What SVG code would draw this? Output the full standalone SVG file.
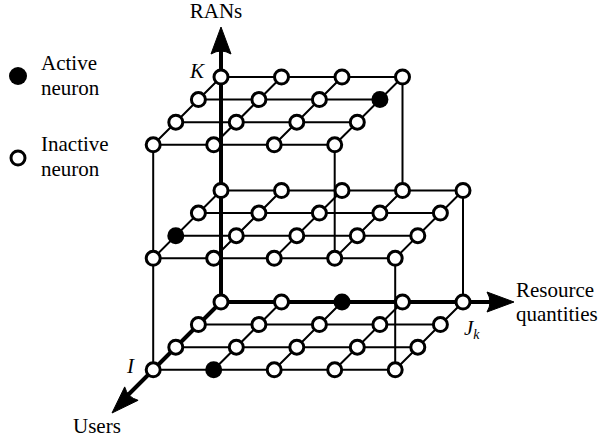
<svg xmlns="http://www.w3.org/2000/svg" width="608" height="440" viewBox="0 0 608 440">
<rect width="608" height="440" fill="#fff"/>
<g id="connectors" fill="none" stroke="#000">
<g stroke-width="2">
<path d="M198.4 324.6H440.4M175.8 347.2H417.8M153.2 369.8H395.2M281.5 302L213.7 369.8M342 302L274.2 369.8M402.5 302L334.7 369.8M463 302L395.2 369.8"/>
<path d="M221 190.5H463M198.4 213.1H440.4M175.8 235.7H417.8M153.2 258.3H395.2M221 190.5L153.2 258.3M281.5 190.5L213.7 258.3M342 190.5L274.2 258.3M402.5 190.5L334.7 258.3M463 190.5L395.2 258.3"/>
<path d="M221 77H402.5M198.4 99.6H379.9M175.8 122.2H357.3M153.2 144.8H334.7M221 77L153.2 144.8M281.5 77L213.7 144.8M342 77L274.2 144.8M402.5 77L334.7 144.8"/>
<path d="M153.2 144.8V369.8M334.7 144.8V258.3M402.5 77V190.5M395.2 258.3V369.8M463 190.5V302"/>
</g>
<path stroke-width="4" d="M221 302V45M221 302H500M221 302L125 398"/>
<g fill="#000" stroke-width="1">
<path d="M221 27L211 54Q221 48 231 54Z"/>
<path d="M514 302L487 292Q493 302 487 312Z"/>
<path d="M112 413L138.1 400.3Q127.6 397.4 124.7 386.9Z"/>
</g>
</g>
<g id="nodes" fill="#fff" stroke="#000" stroke-width="3">
<g id="bottom">
<g id="b00"><circle cx="221" cy="302" r="7"/></g>
<g id="b01"><circle cx="281.5" cy="302" r="7"/></g>
<g id="b02"><circle cx="342" cy="302" r="8.5" fill="#000" stroke="none"/></g>
<g id="b03"><circle cx="402.5" cy="302" r="7"/></g>
<g id="b04"><circle cx="463" cy="302" r="7"/></g>
<g id="b10"><circle cx="198.4" cy="324.6" r="7"/></g>
<g id="b11"><circle cx="258.9" cy="324.6" r="7"/></g>
<g id="b12"><circle cx="319.4" cy="324.6" r="7"/></g>
<g id="b13"><circle cx="379.9" cy="324.6" r="7"/></g>
<g id="b14"><circle cx="440.4" cy="324.6" r="7"/></g>
<g id="b20"><circle cx="175.8" cy="347.2" r="7"/></g>
<g id="b21"><circle cx="236.3" cy="347.2" r="7"/></g>
<g id="b22"><circle cx="296.8" cy="347.2" r="7"/></g>
<g id="b23"><circle cx="357.3" cy="347.2" r="7"/></g>
<g id="b24"><circle cx="417.8" cy="347.2" r="7"/></g>
<g id="b30"><circle cx="153.2" cy="369.8" r="7"/></g>
<g id="b31"><circle cx="213.7" cy="369.8" r="8.5" fill="#000" stroke="none"/></g>
<g id="b32"><circle cx="274.2" cy="369.8" r="7"/></g>
<g id="b33"><circle cx="334.7" cy="369.8" r="7"/></g>
<g id="b34"><circle cx="395.2" cy="369.8" r="7"/></g>
</g>
<g id="middle">
<g id="m00"><circle cx="221" cy="190.5" r="7"/></g>
<g id="m01"><circle cx="281.5" cy="190.5" r="7"/></g>
<g id="m02"><circle cx="342" cy="190.5" r="7"/></g>
<g id="m03"><circle cx="402.5" cy="190.5" r="7"/></g>
<g id="m04"><circle cx="463" cy="190.5" r="7"/></g>
<g id="m10"><circle cx="198.4" cy="213.1" r="7"/></g>
<g id="m11"><circle cx="258.9" cy="213.1" r="7"/></g>
<g id="m12"><circle cx="319.4" cy="213.1" r="7"/></g>
<g id="m13"><circle cx="379.9" cy="213.1" r="7"/></g>
<g id="m14"><circle cx="440.4" cy="213.1" r="7"/></g>
<g id="m20"><circle cx="175.8" cy="235.7" r="8.5" fill="#000" stroke="none"/></g>
<g id="m21"><circle cx="236.3" cy="235.7" r="7"/></g>
<g id="m22"><circle cx="296.8" cy="235.7" r="7"/></g>
<g id="m23"><circle cx="357.3" cy="235.7" r="7"/></g>
<g id="m24"><circle cx="417.8" cy="235.7" r="7"/></g>
<g id="m30"><circle cx="153.2" cy="258.3" r="7"/></g>
<g id="m31"><circle cx="213.7" cy="258.3" r="7"/></g>
<g id="m32"><circle cx="274.2" cy="258.3" r="7"/></g>
<g id="m33"><circle cx="334.7" cy="258.3" r="7"/></g>
<g id="m34"><circle cx="395.2" cy="258.3" r="7"/></g>
</g>
<g id="top">
<g id="t00"><circle cx="221" cy="77" r="7"/></g>
<g id="t01"><circle cx="281.5" cy="77" r="7"/></g>
<g id="t02"><circle cx="342" cy="77" r="7"/></g>
<g id="t03"><circle cx="402.5" cy="77" r="7"/></g>
<g id="t10"><circle cx="198.4" cy="99.6" r="7"/></g>
<g id="t11"><circle cx="258.9" cy="99.6" r="7"/></g>
<g id="t12"><circle cx="319.4" cy="99.6" r="7"/></g>
<g id="t13"><circle cx="379.9" cy="99.6" r="8.5" fill="#000" stroke="none"/></g>
<g id="t20"><circle cx="175.8" cy="122.2" r="7"/></g>
<g id="t21"><circle cx="236.3" cy="122.2" r="7"/></g>
<g id="t22"><circle cx="296.8" cy="122.2" r="7"/></g>
<g id="t23"><circle cx="357.3" cy="122.2" r="7"/></g>
<g id="t30"><circle cx="153.2" cy="144.8" r="7"/></g>
<g id="t31"><circle cx="213.7" cy="144.8" r="7"/></g>
<g id="t32"><circle cx="274.2" cy="144.8" r="7"/></g>
<g id="t33"><circle cx="334.7" cy="144.8" r="7"/></g>
</g>
</g>
<g id="legend">
<g id="leg-active"><circle cx="18" cy="76" r="9" fill="#000"/><text x="41" y="70" font-family="Liberation Serif" font-size="21">Active</text><text x="41" y="95" font-family="Liberation Serif" font-size="21">neuron</text></g>
<g id="leg-inactive"><circle cx="18" cy="158" r="7" fill="#fff" stroke="#000" stroke-width="3"/><text x="41" y="151" font-family="Liberation Serif" font-size="21">Inactive</text><text x="41" y="176" font-family="Liberation Serif" font-size="21">neuron</text></g>
</g>
<g id="labels">
<text x="216" y="18" text-anchor="middle" font-family="Liberation Serif" font-size="21">RANs</text>
<text font-style="italic" x="190" y="78" font-family="Liberation Serif" font-size="21">K</text>
<text font-style="italic" x="127" y="373" font-family="Liberation Serif" font-size="21">I</text>
<text font-style="italic" x="464" y="335" font-family="Liberation Serif" font-size="21">J<tspan font-size="14" dy="4">k</tspan></text>
<text x="516" y="297" font-family="Liberation Serif" font-size="21">Resource</text>
<text x="516" y="321" font-family="Liberation Serif" font-size="21">quantities</text>
<text x="73" y="433" font-family="Liberation Serif" font-size="21">Users</text>
</g>
</svg>
